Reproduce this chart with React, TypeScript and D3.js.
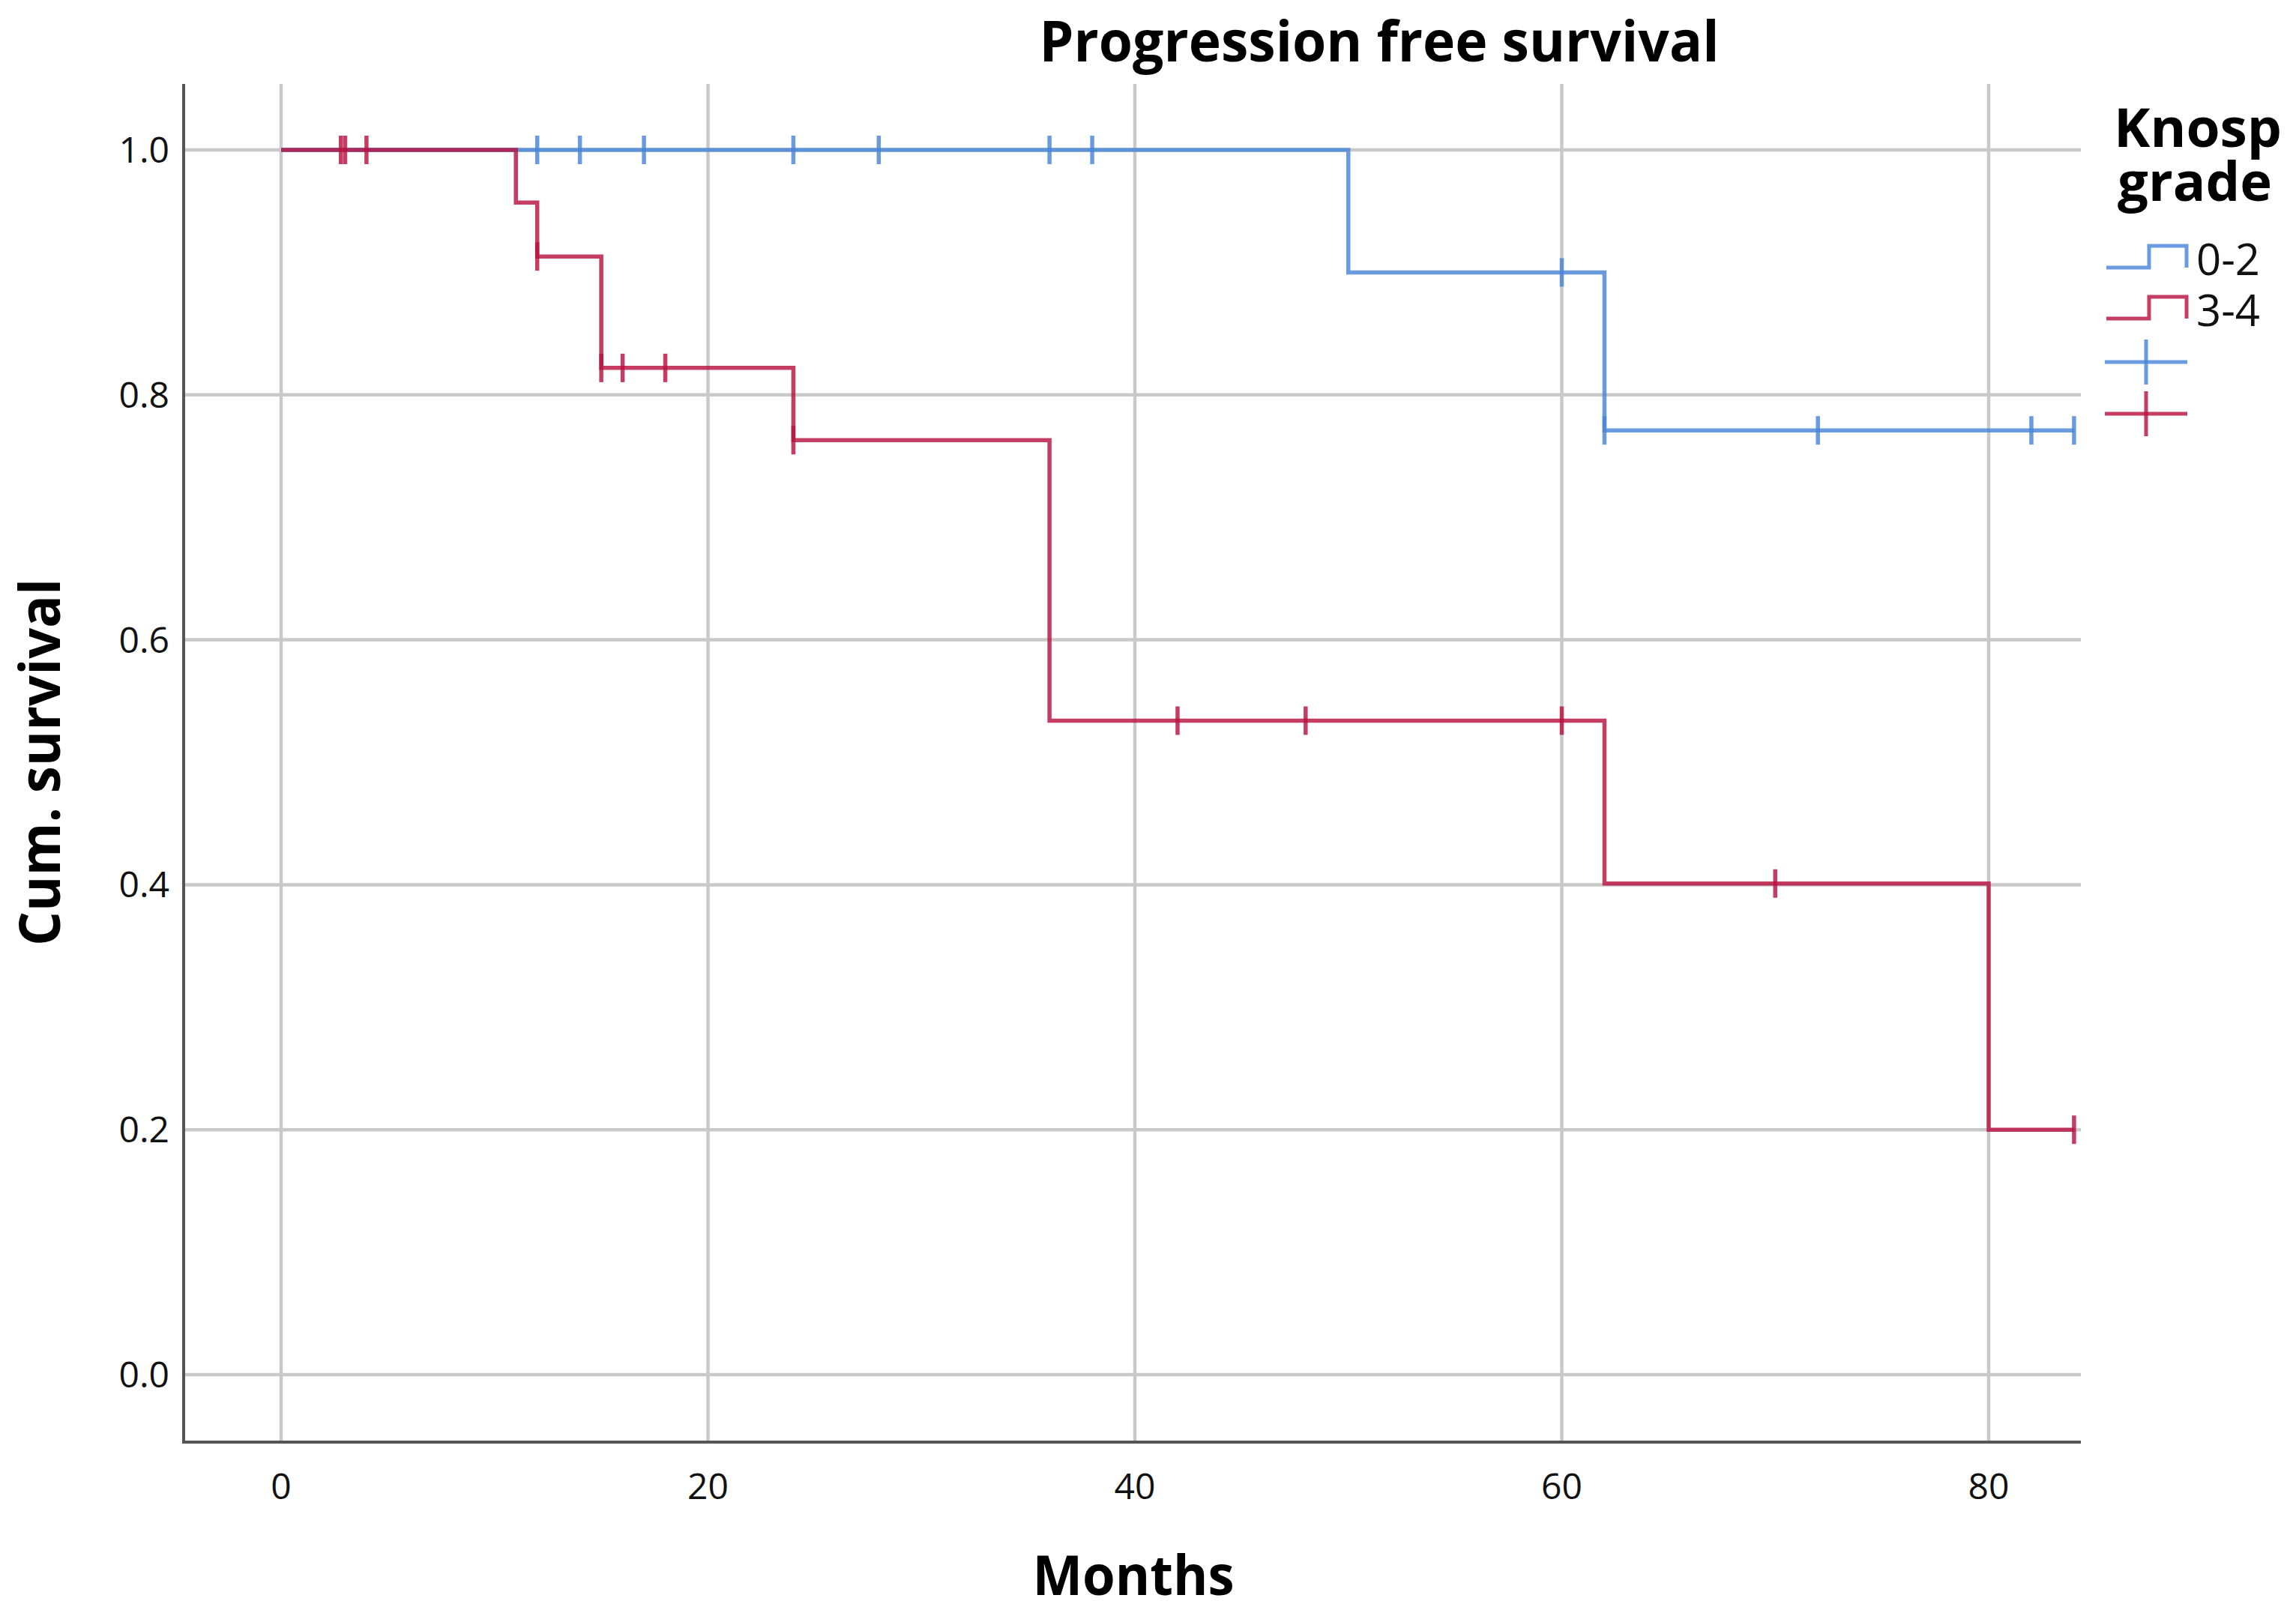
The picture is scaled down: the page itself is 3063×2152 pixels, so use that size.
import { useMemo } from 'react';
import * as d3 from 'd3';

interface Step {
    t: number;
    s: number;
}

const monthTicks = [0, 20, 40, 60, 80];
const survivalTicks = [0, 0.2, 0.4, 0.6, 0.8, 1.0];

const groups = ['0-2', '3-4'];

// Kaplan-Meier steps (time in months, cumulative survival)
const grade02Steps: Step[] = [
    { t: 0, s: 1 },
    { t: 50, s: 0.9 },
    { t: 62, s: 0.771 },
];
const grade02End = 84;
const grade02Censored = [12, 14, 17, 24, 28, 36, 38, 60, 62, 72, 82, 84];

const grade34Steps: Step[] = [
    { t: 0, s: 1 },
    { t: 11, s: 0.957 },
    { t: 12, s: 0.913 },
    { t: 15, s: 0.822 },
    { t: 24, s: 0.763 },
    { t: 36, s: 0.534 },
    { t: 62, s: 0.401 },
    { t: 80, s: 0.2 },
];
const grade34End = 84;
const grade34Censored = [2.8, 3, 4, 12, 15, 16, 18, 24, 42, 48, 60, 70, 84];

const colours = { blue: '#4a85d8', red: '#b8123f' };

const W = 3063;
const H = 2152;
const frame = { left: 245, right: 2776, top: 112, bottom: 1924 };

const font = "'Open Sans', 'Noto Sans', sans-serif";

function survivalAt(steps: Step[], t: number) {
    let s = steps[0].s;
    for (const d of steps) if (d.t <= t) s = d.s;
    return s;
}

export default function App() {
    const x = useMemo(() => d3.scaleLinear().domain([0, 80]).range([375, 2653]), []);
    const y = useMemo(() => d3.scaleLinear().domain([0, 1]).range([1834, 200]), []);

    const line = d3
        .line<Step>()
        .x((d) => x(d.t))
        .y((d) => y(d.s))
        .curve(d3.curveStepAfter);

    const series = [
        { name: groups[0], steps: grade02Steps, end: grade02End, censored: grade02Censored, colour: colours.blue },
        { name: groups[1], steps: grade34Steps, end: grade34End, censored: grade34Censored, colour: colours.red },
    ];

    return (
        <svg
            width={W}
            height={H}
            viewBox={`0 0 ${W} ${H}`}
            style={{ position: 'absolute', left: 0, top: 0, background: '#fff' }}
            fontFamily={font}
        >
            <rect width={W} height={H} fill="#fff" />
            {/* grid */}
            <g stroke="#c9c9c9" strokeWidth={4.5}>
                {survivalTicks.map((v) => (
                    <line key={v} x1={frame.left} x2={frame.right} y1={y(v)} y2={y(v)} />
                ))}
                {monthTicks.map((v) => (
                    <line key={v} x1={x(v)} x2={x(v)} y1={frame.top} y2={frame.bottom} />
                ))}
            </g>
            {/* axes */}
            <g stroke="#555" strokeWidth={4}>
                <line x1={frame.left} x2={frame.left} y1={frame.top} y2={frame.bottom + 2} />
                <line x1={frame.left - 2} x2={frame.right} y1={frame.bottom} y2={frame.bottom} />
            </g>
            <g fontSize={48} fill="#111">
                {survivalTicks.map((v) => (
                    <text key={v} x={226} y={y(v) + 17} textAnchor="end">
                        {d3.format('.1f')(v)}
                    </text>
                ))}
                {monthTicks.map((v) => (
                    <text key={v} x={x(v)} y={2000} textAnchor="middle">
                        {v}
                    </text>
                ))}
            </g>
            {/* curves */}
            {series.map((s) => (
                <g key={s.name} stroke={s.colour} strokeOpacity={0.82} fill="none" strokeWidth={5.5}>
                    <path d={line([...s.steps, { t: s.end, s: s.steps[s.steps.length - 1].s }]) || ''} />
                    {s.censored.map((c, i) => (
                        <line
                            key={i}
                            x1={x(c)}
                            x2={x(c)}
                            y1={y(survivalAt(s.steps, c)) - 19}
                            y2={y(survivalAt(s.steps, c)) + 19}
                        />
                    ))}
                </g>
            ))}
            {/* titles */}
            <text x={1840} y={82} textAnchor="middle" fontWeight={700} fontSize={76} textLength={907} lengthAdjust="spacingAndGlyphs">
                Progression free survival
            </text>
            <text x={1512} y={2128} textAnchor="middle" fontWeight={700} fontSize={74} textLength={269} lengthAdjust="spacingAndGlyphs">
                Months
            </text>
            <text
                transform={`translate(80, 1017) rotate(-90)`}
                textAnchor="middle"
                fontWeight={700}
                fontSize={76}
                textLength={490}
                lengthAdjust="spacingAndGlyphs"
            >
                Cum. survival
            </text>
            {/* legend */}
            <g fontSize={72} fontWeight={700} textAnchor="middle">
                <text x={2932} y={196} textLength={224} lengthAdjust="spacingAndGlyphs">Knosp</text>
                <text x={2928} y={268} textLength={206} lengthAdjust="spacingAndGlyphs">grade</text>
            </g>
            {series.map((s, i) => {
                const base = 357 + i * 68;
                return (
                    <g key={s.name}>
                        <path
                            d={`M2810,${base}H2867V${base - 29}H2917V${base}`}
                            fill="none"
                            stroke={s.colour}
                            strokeOpacity={0.82}
                            strokeWidth={5}
                        />
                        <text x={2930} y={base + 10} fontSize={58} fill="#111">
                            {s.name}
                        </text>
                    </g>
                );
            })}
            {series.map((s, i) => {
                const cy = 483 + i * 69;
                return (
                    <g key={s.name} stroke={s.colour} strokeOpacity={0.82} strokeWidth={5}>
                        <line x1={2808} x2={2918} y1={cy} y2={cy} />
                        <line x1={2863} x2={2863} y1={cy - 30} y2={cy + 30} />
                    </g>
                );
            })}
        </svg>
    );
}
